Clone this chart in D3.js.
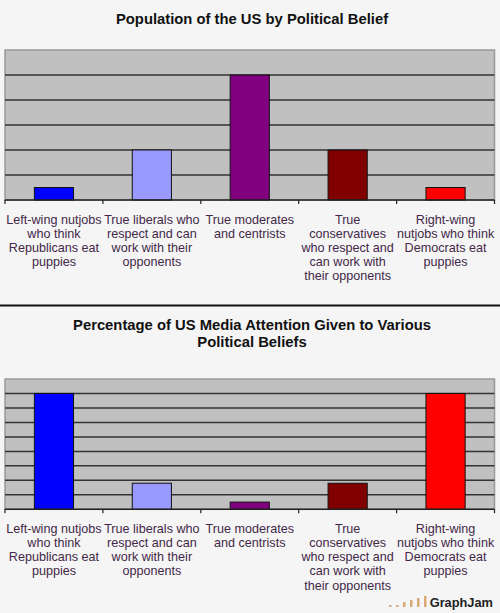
<!DOCTYPE html>
<html>
<head>
<meta charset="utf-8">
<script src="https://cdn.jsdelivr.net/npm/d3@7"></script>
<style>
  body { margin: 0; background: #f5f5f5; }
  svg { display: block; font-family: "Liberation Sans", Arial, sans-serif; }
</style>
</head>
<body>
<svg id="chart" width="500" height="613"></svg>
<script>
// categories, one entry per bar (label already broken into lines)
const categories = [
  ["Left-wing nutjobs", "who think", "Republicans eat", "puppies"],
  ["True liberals who", "respect and can", "work with their", "opponents"],
  ["True moderates", "and centrists"],
  ["True", "conservatives", "who respect and", "can work with", "their opponents"],
  ["Right-wing", "nutjobs who think", "Democrats eat", "puppies"]
];
const populationValues = [5, 20, 50, 20, 5];
const mediaValues = [40, 9, 2.5, 9, 40];
const barColors = ["#0000ff", "#9999ff", "#800080", "#800000", "#ff0000"];

const svg = d3.select("#chart");

function drawChart(opt) {
  const g = svg.append("g");

  // titel (kann mehrzeilig sein)
  g.selectAll("text.title")
    .data(opt.title)
    .enter()
    .append("text")
    .attr("class", "title")
    .attr("x", 252)
    .attr("y", (d, i) => opt.titleY + i * 16.5)
    .attr("text-anchor", "middle")
    .style("font-size", "14.8px")
    .style("font-weight", "bold")
    .style("fill", "#111")
    .text(d => d);

  const x = d3.scaleBand()
    .domain(d3.range(categories.length))
    .range([5, 494.5])
    .paddingInner(0.6)
    .paddingOuter(0.3);

  const y = d3.scaleLinear()
    .domain([0, opt.max])
    .range([opt.bottom, opt.top]);

  // plot-hintergrund
  g.append("rect")
    .attr("x", 5)
    .attr("y", y(opt.max))
    .attr("width", 489.5)
    .attr("height", y(0) - y(opt.max))
    .style("fill", "#c0c0c0")
    .style("stroke", "#999")
    .style("stroke-width", 1.5);

  // gitterlinien
  g.selectAll("line.grid")
    .data(d3.range(opt.step, opt.max, opt.step))
    .enter()
    .append("line")
    .attr("class", "grid")
    .attr("x1", 5)
    .attr("x2", 494.5)
    .attr("y1", d => y(d))
    .attr("y2", d => y(d))
    .style("stroke", "#333")
    .style("stroke-width", 1.5);

  // balken
  g.selectAll("rect.bar")
    .data(opt.values)
    .enter()
    .append("rect")
    .attr("class", "bar")
    .attr("x", (d, i) => x(i))
    .attr("y", d => y(d))
    .attr("width", x.bandwidth())
    .attr("height", d => y(0) - y(d))
    .style("fill", (d, i) => barColors[i])
    .style("stroke", "#111")
    .style("stroke-width", 1);

  // x-achse mit ticks an den kategoriegrenzen
  g.append("line")
    .attr("x1", 5)
    .attr("x2", 494.5)
    .attr("y1", y(0))
    .attr("y2", y(0))
    .style("stroke", "#222")
    .style("stroke-width", 1.5);

  g.selectAll("line.tick")
    .data(d3.range(categories.length + 1))
    .enter()
    .append("line")
    .attr("class", "tick")
    .attr("x1", i => 5 + i * x.step())
    .attr("x2", i => 5 + i * x.step())
    .attr("y1", y(0))
    .attr("y2", y(0) + 4)
    .style("stroke", "#222")
    .style("stroke-width", 1.2);

  const labels = g.selectAll("text.label")
    .data(categories)
    .enter()
    .append("text")
    .attr("class", "label")
    .attr("text-anchor", "middle")
    .style("font-size", "12.6px")
    .style("fill", "#432848");

  labels.selectAll("tspan")
    .data((d, i) => d.map(line => ({ line, i })))
    .enter()
    .append("tspan")
    .attr("x", d => x(d.i) + x.bandwidth() / 2)
    .attr("y", (d, j) => y(0) + 23.5 + j * 14.2)
    .text(d => d.line);
}

drawChart({
  title: ["Population of the US by Political Belief"],
  titleY: 23.5,
  values: populationValues,
  max: 60,
  step: 10,
  top: 50,
  bottom: 200
});

// trennlinie
svg.append("line")
  .attr("x1", 0).attr("x2", 500)
  .attr("y1", 305.5).attr("y2", 305.5)
  .style("stroke", "#111")
  .style("stroke-width", 2);

drawChart({
  title: ["Percentage of US Media Attention Given to Various", "Political Beliefs"],
  titleY: 330,
  values: mediaValues,
  max: 45,
  step: 5,
  top: 379,
  bottom: 509.3
});

// graphjam logo
const logoBars = [2, 2, 5, 7, 9, 11];
svg.append("g")
  .selectAll("rect")
  .data(logoBars)
  .enter()
  .append("rect")
  .attr("x", (d, i) => 389 + i * 7)
  .attr("y", d => 607 - d)
  .attr("width", 2.5)
  .attr("height", d => d)
  .style("fill", "#d9a877");

svg.append("text")
  .attr("x", 493)
  .attr("y", 607)
  .attr("text-anchor", "end")
  .style("font-size", "12.8px")
  .style("font-weight", "bold")
  .style("fill", "#222")
  .text("GraphJam");
</script>
</body>
</html>
